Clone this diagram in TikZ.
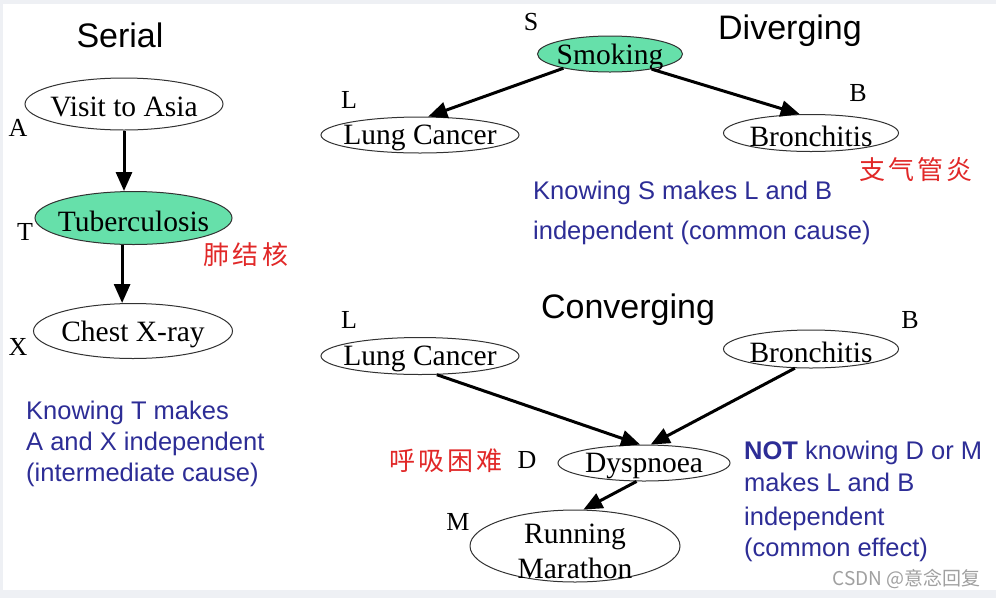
\documentclass[tikz,border=0pt]{standalone}
\usepackage{fontspec}
\setmainfont{Liberation Serif}
\newfontfamily\sansf{Liberation Sans}
\newfontfamily\cjkf[LetterSpace=12]{Noto Sans CJK SC}
\newfontfamily\wmf{Noto Sans CJK SC}
\usetikzlibrary{shapes.geometric,arrows.meta}
\definecolor{bluetxt}{RGB}{45,45,150}
\definecolor{redtxt}{RGB}{225,40,40}
\definecolor{nodegreen}{RGB}{102,224,170}
\definecolor{bgray}{RGB}{238,240,244}
\definecolor{ellline}{RGB}{50,50,50}
\definecolor{wmgray}{RGB}{160,160,160}
\begin{document}
\begin{tikzpicture}[x=1pt,y=-1pt,
 ell/.style={ellipse, draw=ellline, line width=1pt, inner sep=0pt, fill=white},
 gell/.style={ell, fill=nodegreen},
 nodetext/.style={font=\fontsize{29.5}{35}\selectfont, inner sep=0pt, yshift=-3pt},
 letter/.style={font=\fontsize{26}{28}\selectfont, inner sep=0pt},
 title/.style={font=\sansf\fontsize{34}{36}\selectfont, anchor=base, inner sep=0pt},
 note/.style={font=\sansf\fontsize{25.5}{27}\selectfont, text=bluetxt, anchor=base west, inner sep=0pt},
 cn/.style={font=\cjkf\fontsize{26}{28}\selectfont, text=redtxt, inner sep=0pt},
 arr/.style={-{Triangle[length=19pt,width=16pt]}, line width=3pt}
]
% background
\fill[bgray] (0,0) rectangle (996,598);
\fill[white] (3,4) rectangle (996,590);
\useasboundingbox (0,0) rectangle (996,598);

% ---------- Serial ----------
\node[title] (tser) at (120,47) {Serial};
\node[ell, minimum width=198pt, minimum height=52pt,
      label={[nodetext]center:Visit to Asia}] (A) at (124,104) {};
\node[gell, minimum width=197pt, minimum height=53pt,
      label={[nodetext]center:Tuberculosis}] (T) at (133.5,218) {};
\node[ell, minimum width=199pt, minimum height=55pt,
      label={[nodetext]center:Chest X-ray}] (X) at (133,331) {};
\node[letter] (lA) at (18,128) {A};
\node[letter] (lT) at (25,232) {T};
\node[letter] (lX) at (18,347) {X};
\node[cn] (cnT) at (246,255) {肺结核};
\draw[arr] (A.south) -- (A.south |- T.north);
\draw[arr] (T.247) -- (T.247 |- X.north);
\node[note] (n1) at (26,419) {Knowing T makes};
\node[note] (n2) at (26,450) {A and X independent};
\node[note] (n3) at (26,481) {(intermediate cause)};

% ---------- Diverging ----------
\node[title] (tdiv) at (790,39) {Diverging};
\node[gell, minimum width=145pt, minimum height=36pt,
      label={[nodetext]center:Smoking}] (S) at (610,54) {};
\node[ell, minimum width=198pt, minimum height=36pt,
      label={[nodetext]center:Lung Cancer}] (L1) at (420,135) {};
\node[ell, minimum width=175pt, minimum height=37pt,
      label={[nodetext]center:Bronchitis}] (B1) at (811,133) {};
\node[letter] (lS) at (531,22) {S};
\node[letter] (lL1) at (349,100) {L};
\node[letter] (lB1) at (858,93) {B};
\node[cn] (cnB) at (916,170) {支气管炎};
\draw[arr] (S.197) -- (L1.66);
\draw[arr] (S.340) -- (B1.121);
\node[note] (n4) at (533,199) {Knowing S makes L and B};
\node[note] (n5) at (533,239) {independent (common cause)};

% ---------- Converging ----------
\node[title] (tcon) at (628,318) {Converging};
\node[ell, minimum width=198pt, minimum height=37pt,
      label={[nodetext]center:Lung Cancer}] (L2) at (420,356) {};
\node[ell, minimum width=175pt, minimum height=38pt,
      label={[nodetext]center:Bronchitis}] (B2) at (811,349) {};
\node[ell, minimum width=172pt, minimum height=36pt,
      label={[nodetext]center:Dyspnoea}] (D) at (644,463) {};
\node[ell, minimum width=210pt, minimum height=72pt,
      label={[nodetext,align=center,yshift=-2pt]center:{Running\\Marathon}}] (M) at (575,546) {};
\node[letter] (lL2) at (349,320) {L};
\node[letter] (lB2) at (910,320) {B};
\node[letter] (lD) at (527,460) {D};
\node[letter] (lM) at (458,522) {M};
\node[cn] (cnD) at (446,461) {呼吸困难};
\draw[arr] (L2.312) -- (D.102);
\draw[arr] (B2.230) -- (D.70);
\draw[arr] (D.248) -- (M.77);
\node[note] (n6) at (744,459) {\textbf{NOT} knowing D or M};
\node[note] (n7) at (744,491) {makes L and B};
\node[note] (n8) at (744,525) {independent};
\node[note] (n9) at (744,556) {(common effect)};

\node[font=\wmf\fontsize{19}{21}\selectfont, text=wmgray, anchor=east, inner sep=0pt] (wm) at (981,579) {CSDN @意念回复};
\end{tikzpicture}
\end{document}
